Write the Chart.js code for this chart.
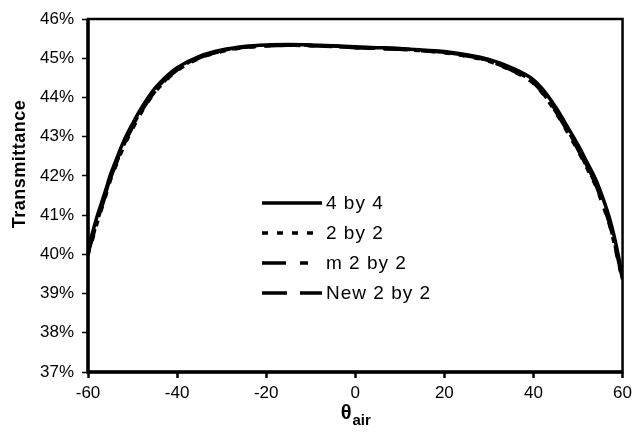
<!DOCTYPE html>
<html>
<head>
<meta charset="utf-8">
<script src="https://cdn.jsdelivr.net/npm/chart.js@4.4.0/dist/chart.umd.min.js"></script>
<style>
    body { margin: 0; background: #fff; }
    canvas { display: block; }
</style>
</head>
<body>
<canvas id="myChart" width="637" height="434"></canvas>
<script>
// Incidence angles (degrees in air)
var angles = [-60, -59, -58, -57, -56, -55, -54, -52, -50, -48, -45, -42, -40, -35, -30, -25, -20, -15, -10, -5,
    0, 5, 10, 15, 20, 25, 30, 35, 40, 42, 45, 48, 50, 52, 54, 56, 57, 58, 59, 60];

// Transmittance in percent
var t4by4 = [40.15, 40.55, 40.95, 41.3, 41.65, 42.02, 42.32, 42.88, 43.33, 43.73, 44.23, 44.58, 44.76, 45.05, 45.21, 45.3, 45.34, 45.35, 45.34, 45.32,
    45.29, 45.27, 45.25, 45.21, 45.17, 45.09, 44.97, 44.76, 44.45, 44.22, 43.75, 43.18, 42.79, 42.35, 41.9, 41.3, 40.95, 40.52, 40.0, 39.42];
var t2by2 = [39.98, 40.38, 40.78, 41.14, 41.5, 41.88, 42.18, 42.74, 43.2, 43.62, 44.13, 44.49, 44.68, 45.0, 45.17, 45.27, 45.31, 45.33, 45.32, 45.3,
    45.27, 45.25, 45.23, 45.19, 45.14, 45.05, 44.92, 44.69, 44.36, 44.11, 43.62, 43.04, 42.64, 42.2, 41.74, 41.12, 40.78, 40.34, 39.84, 39.33];
var tm2by2 = [40.06, 40.46, 40.86, 41.22, 41.57, 41.95, 42.25, 42.81, 43.27, 43.67, 44.18, 44.53, 44.72, 45.02, 45.19, 45.28, 45.32, 45.34, 45.33, 45.31,
    45.28, 45.26, 45.24, 45.2, 45.15, 45.07, 44.94, 44.72, 44.39, 44.15, 43.67, 43.1, 42.7, 42.26, 41.8, 41.18, 40.84, 40.4, 39.9, 39.36];
var tNew2by2 = [40.02, 40.42, 40.82, 41.18, 41.53, 41.92, 42.22, 42.78, 43.24, 43.65, 44.15, 44.51, 44.7, 45.01, 45.18, 45.28, 45.32, 45.33, 45.32, 45.3,
    45.27, 45.25, 45.23, 45.19, 45.15, 45.06, 44.93, 44.7, 44.37, 44.13, 43.64, 43.07, 42.67, 42.23, 41.77, 41.15, 40.81, 40.37, 39.87, 39.35];

var seriesNames = ['4 by 4', '2 by 2', 'm 2 by 2', 'New 2 by 2'];
var xTicks = [-60, -40, -20, 0, 20, 40, 60];
var yTicks = [37, 38, 39, 40, 41, 42, 43, 44, 45, 46];

var fontName = '"Liberation Sans", Arial, sans-serif';

// Build {x, y} points for a series
function toPoints(values) {
    return values.map(function (v, i) { return { x: angles[i], y: v }; });
}

// Frame around the plot area (left and bottom a bit heavier)
var framePlugin = {
    id: 'frame',
    afterDatasetsDraw: function (chart) {
        var a = chart.chartArea;
        var ctx = chart.ctx;
        ctx.save();
        ctx.strokeStyle = '#000';
        ctx.lineWidth = 2.5;
        ctx.strokeRect(a.left, a.top, a.right - a.left, a.bottom - a.top);
        ctx.lineWidth = 3.5;
        ctx.beginPath();
        ctx.moveTo(a.left, a.top);
        ctx.lineTo(a.left, a.bottom);
        ctx.lineTo(a.right, a.bottom);
        ctx.stroke();
        ctx.restore();
    }
};

// Legend drawn inside the plot, lines use each dataset's dash
var legendPlugin = {
    id: 'insideLegend',
    afterDatasetsDraw: function (chart) {
        var ctx = chart.ctx;
        var a = chart.chartArea;
        ctx.save();
        chart.data.datasets.forEach(function (ds, i) {
            var y = a.top + 184 + i * 30;
            var x0 = a.left + 174;
            ctx.strokeStyle = '#000';
            ctx.lineWidth = 3.5;
            ctx.setLineDash(ds.borderDash || []);
            ctx.beginPath();
            ctx.moveTo(x0, y);
            ctx.lineTo(x0 + 60, y);
            ctx.stroke();
            ctx.setLineDash([]);
            ctx.fillStyle = '#000';
            ctx.font = '19px ' + fontName;
            ctx.letterSpacing = '1px';
            ctx.textBaseline = 'middle';
            ctx.textAlign = 'left';
            ctx.fillText(ds.label, x0 + 64, y + 1);
        });
        ctx.restore();
    }
};

// Axis titles (the x title has a subscript)
var titlesPlugin = {
    id: 'axisTitles',
    afterDraw: function (chart) {
        var ctx = chart.ctx;
        var a = chart.chartArea;
        ctx.save();
        ctx.fillStyle = '#000';
        ctx.textBaseline = 'alphabetic';

        ctx.font = 'bold 20px ' + fontName;
        var cx = (a.left + a.right) / 2;
        var thetaW = ctx.measureText('θ').width;
        ctx.font = 'bold 15px ' + fontName;
        var subW = ctx.measureText('air').width;
        var startX = cx - (thetaW + subW) / 2;
        ctx.font = 'bold 20px ' + fontName;
        ctx.textAlign = 'left';
        ctx.fillText('θ', startX, 419);
        ctx.font = 'bold 15px ' + fontName;
        ctx.fillText('air', startX + thetaW + 1, 425);

        ctx.translate(20, 164);
        ctx.rotate(-Math.PI / 2);
        ctx.font = 'bold 18px ' + fontName;
        ctx.letterSpacing = '0.5px';
        ctx.textAlign = 'center';
        ctx.textBaseline = 'middle';
        ctx.fillText('Transmittance', 0, 0);
        ctx.restore();
    }
};

var dashes = [[], [6, 9], [24, 14, 8, 14], [25, 13]];
var allValues = [t4by4, t2by2, tm2by2, tNew2by2];

var datasets = allValues.map(function (vals, i) {
    return {
        label: seriesNames[i],
        data: toPoints(vals),
        borderColor: '#000',
        backgroundColor: '#000',
        borderWidth: 3.5,
        borderDash: dashes[i],
        pointRadius: 0,
        fill: false,
        cubicInterpolationMode: 'monotone'
    };
});

const config = {
    type: 'line',
    data: { datasets: datasets },
    options: {
        responsive: false,
        animation: false,
        devicePixelRatio: 1,
        layout: { padding: { left: 0, right: 11, top: 19, bottom: 0 } },
        plugins: {
            legend: { display: false },
            tooltip: { enabled: false }
        },
        scales: {
            x: {
                type: 'linear',
                min: -60,
                max: 60,
                afterBuildTicks: function (scale) {
                    scale.ticks = xTicks.map(function (v) { return { value: v }; });
                },
                afterFit: function (scale) { scale.height = 62; },
                border: { display: false },
                grid: { drawOnChartArea: false, drawTicks: true, tickLength: 6, tickWidth: 2.5, color: '#000' },
                ticks: { color: '#000', font: { family: fontName, size: 17 }, padding: 5, maxRotation: 0 }
            },
            y: {
                min: 37,
                max: 46,
                afterBuildTicks: function (scale) {
                    scale.ticks = yTicks.map(function (v) { return { value: v }; });
                },
                afterFit: function (scale) { scale.width = 88; },
                border: { display: false },
                grid: { drawOnChartArea: false, drawTicks: true, tickLength: 6, tickWidth: 1.5, color: '#000' },
                ticks: {
                    color: '#000',
                    font: { family: fontName, size: 17 },
                    padding: 8,
                    callback: function (v) { return v + '%'; }
                }
            }
        }
    },
    plugins: [framePlugin, legendPlugin, titlesPlugin]
};

var ctx = document.getElementById('myChart').getContext('2d');
var chart = new Chart(ctx, config);
</script>
</body>
</html>
